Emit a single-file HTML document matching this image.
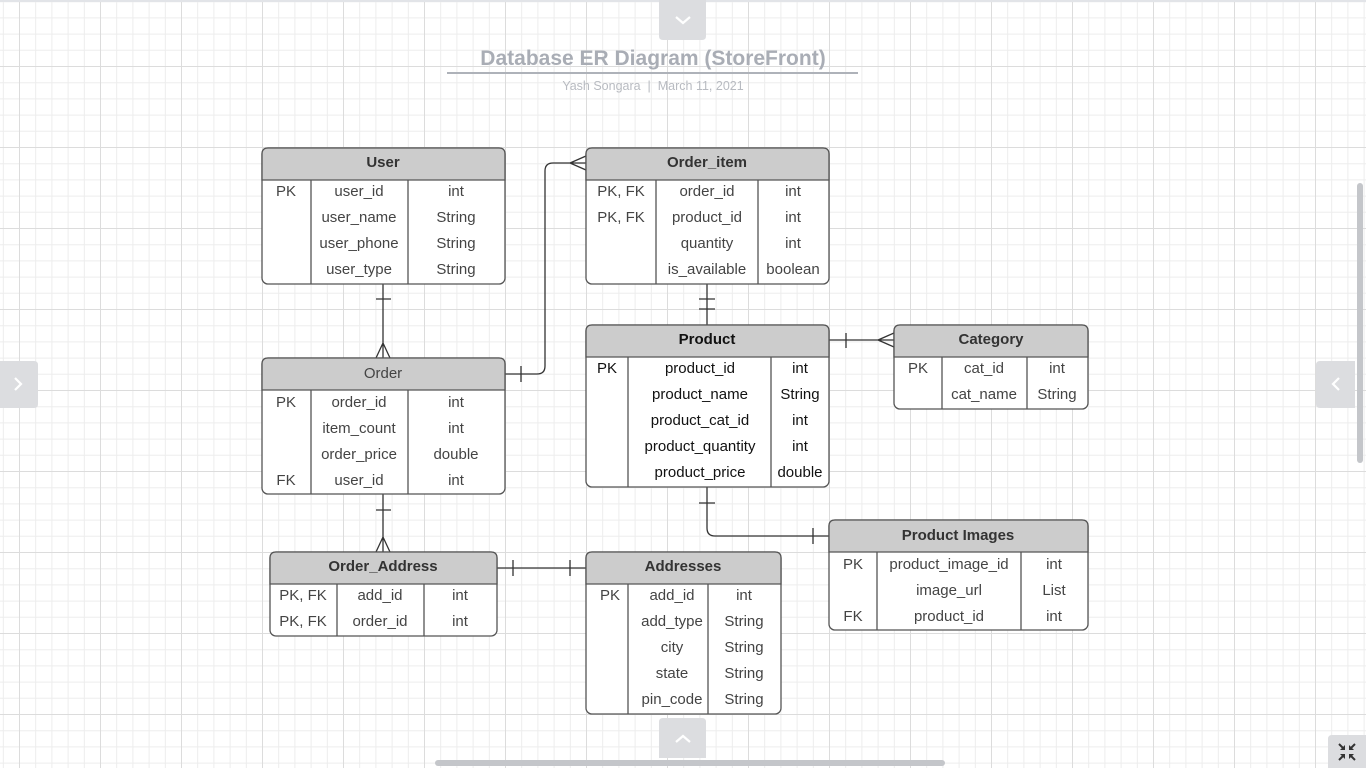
<!DOCTYPE html>
<html><head><meta charset="utf-8"><style>
html,body{margin:0;padding:0;width:1366px;height:768px;overflow:hidden;background:#fff;}
svg{position:absolute;left:0;top:0}
text{font-family:"Liberation Sans",sans-serif;font-size:15px;fill:#444;text-anchor:middle}
.h{font-weight:bold;fill:#333}
.k{fill:#111}
</style></head><body>
<svg width="1366" height="768" viewBox="0 0 1366 768">
<defs>
<pattern id="g" x="19" y="-15" width="81" height="81" patternUnits="userSpaceOnUse">
<g stroke="#ededed" stroke-width="1">
<path d="M16.7 0V81M32.9 0V81M49.1 0V81M65.3 0V81M0 16.7H81M0 32.9H81M0 49.1H81M0 65.3H81"/>
</g>
<path d="M0.5 0V81M0 0.5H81" stroke="#dcdcdc" stroke-width="1"/>
</pattern>
</defs>
<rect width="1366" height="768" fill="url(#g)"/>
<rect x="0" y="0" width="1366" height="2" fill="#e2e4e8"/>
<!-- title -->
<text x="653" y="65" style="font-size:21px;font-weight:bold;fill:#a9adb5">Database ER Diagram (StoreFront)</text>
<rect x="447" y="72" width="411" height="2" fill="#aeb2b9"/>
<text x="653" y="90" style="font-size:12.5px;fill:#b8bbc1">Yash Songara&#160; |&#160; March 11, 2021</text>

<g fill="none" stroke="#333" stroke-width="1.3">
<path d="M383 284V358M376 299H391M376 358L383 343L390 358M383 343V358"/>
<path d="M505 374H537Q545 374 545 366V171Q545 163 553 163H586M521 366V382M586 156L570 163L586 170"/>
<path d="M707 284V325M699 299H715M699 309H715"/>
<path d="M829 340H894M846 333V348M894 333L878 340L894 347"/>
<path d="M707 487V528Q707 536 715 536H829M699 503H715M813 528V544"/>
<path d="M383 494V552M376 510H391M376 552L383 537L390 552M383 537V552"/>
<path d="M497 568H586M513 560V576M570 560V576"/>
</g>

<g stroke="#555" stroke-width="1.3">
<rect x="262" y="148" width="243" height="136" rx="6" fill="#fff"/>
<path d="M262 180V154Q262 148 268 148H499Q505 148 505 154V180Z" fill="#ccc"/>
<path d="M311 180V284M408 180V284" fill="none"/>
<rect x="586" y="148" width="243" height="136" rx="6" fill="#fff"/>
<path d="M586 180V154Q586 148 592 148H823Q829 148 829 154V180Z" fill="#ccc"/>
<path d="M656 180V284M758 180V284" fill="none"/>
<rect x="262" y="358" width="243" height="136" rx="6" fill="#fff"/>
<path d="M262 390V364Q262 358 268 358H499Q505 358 505 364V390Z" fill="#ccc"/>
<path d="M311 390V494M408 390V494" fill="none"/>
<rect x="586" y="325" width="243" height="162" rx="6" fill="#fff"/>
<path d="M586 357V331Q586 325 592 325H823Q829 325 829 331V357Z" fill="#ccc"/>
<path d="M628 357V487M771 357V487" fill="none"/>
<rect x="894" y="325" width="194" height="84" rx="6" fill="#fff"/>
<path d="M894 357V331Q894 325 900 325H1082Q1088 325 1088 331V357Z" fill="#ccc"/>
<path d="M942 357V409M1027 357V409" fill="none"/>
<rect x="270" y="552" width="227" height="84" rx="6" fill="#fff"/>
<path d="M270 584V558Q270 552 276 552H491Q497 552 497 558V584Z" fill="#ccc"/>
<path d="M337 584V636M424 584V636" fill="none"/>
<rect x="586" y="552" width="195" height="162" rx="6" fill="#fff"/>
<path d="M586 584V558Q586 552 592 552H775Q781 552 781 558V584Z" fill="#ccc"/>
<path d="M628 584V714M708 584V714" fill="none"/>
<rect x="829" y="520" width="259" height="110" rx="6" fill="#fff"/>
<path d="M829 552V526Q829 520 835 520H1082Q1088 520 1088 526V552Z" fill="#ccc"/>
<path d="M877 552V630M1021 552V630" fill="none"/>
</g>

<text class="h" x="383" y="167">User</text>
<text x="286" y="196">PK</text><text x="359" y="196">user_id</text><text x="456" y="196">int</text>
<text x="359" y="222">user_name</text><text x="456" y="222">String</text>
<text x="359" y="248">user_phone</text><text x="456" y="248">String</text>
<text x="359" y="274">user_type</text><text x="456" y="274">String</text>
<text class="h" x="707" y="167">Order_item</text>
<text x="621" y="196">PK, FK</text><text x="707" y="196">order_id</text><text x="793" y="196">int</text>
<text x="621" y="222">PK, FK</text><text x="707" y="222">product_id</text><text x="793" y="222">int</text>
<text x="707" y="248">quantity</text><text x="793" y="248">int</text>
<text x="707" y="274">is_available</text><text x="793" y="274">boolean</text>
<text x="383" y="378">Order</text>
<text x="286" y="407">PK</text><text x="359" y="407">order_id</text><text x="456" y="407">int</text>
<text x="359" y="433">item_count</text><text x="456" y="433">int</text>
<text x="359" y="459">order_price</text><text x="456" y="459">double</text>
<text x="286" y="485">FK</text><text x="359" y="485">user_id</text><text x="456" y="485">int</text>
<text class="h k" x="707" y="344">Product</text>
<text class="k" x="607" y="373">PK</text><text class="k" x="700" y="373">product_id</text><text class="k" x="800" y="373">int</text>
<text class="k" x="700" y="399">product_name</text><text class="k" x="800" y="399">String</text>
<text class="k" x="700" y="425">product_cat_id</text><text class="k" x="800" y="425">int</text>
<text class="k" x="700" y="451">product_quantity</text><text class="k" x="800" y="451">int</text>
<text class="k" x="700" y="477">product_price</text><text class="k" x="800" y="477">double</text>
<text class="h" x="991" y="344">Category</text>
<text x="918" y="373">PK</text><text x="984" y="373">cat_id</text><text x="1057" y="373">int</text>
<text x="984" y="399">cat_name</text><text x="1057" y="399">String</text>
<text class="h" x="383" y="571">Order_Address</text>
<text x="303" y="600">PK, FK</text><text x="380" y="600">add_id</text><text x="460" y="600">int</text>
<text x="303" y="626">PK, FK</text><text x="380" y="626">order_id</text><text x="460" y="626">int</text>
<text class="h" x="683" y="571">Addresses</text>
<text x="610" y="600">PK</text><text x="672" y="600">add_id</text><text x="744" y="600">int</text>
<text x="672" y="626">add_type</text><text x="744" y="626">String</text>
<text x="672" y="652">city</text><text x="744" y="652">String</text>
<text x="672" y="678">state</text><text x="744" y="678">String</text>
<text x="672" y="704">pin_code</text><text x="744" y="704">String</text>
<text class="h" x="958" y="540">Product Images</text>
<text x="853" y="569">PK</text><text x="949" y="569">product_image_id</text><text x="1054" y="569">int</text>
<text x="949" y="595">image_url</text><text x="1054" y="595">List</text>
<text x="853" y="621">FK</text><text x="949" y="621">product_id</text><text x="1054" y="621">int</text>

<g fill="#dcdde0">
<path d="M659 0H706V36Q706 40 702 40H663Q659 40 659 36Z"/>
<path d="M663 718H702Q706 718 706 722V758H659V722Q659 718 663 718Z"/>
<path d="M0 361H34Q38 361 38 365V404Q38 408 34 408H0Z"/>
<path d="M1320 361H1355V408H1320Q1316 408 1316 404V365Q1316 361 1320 361Z"/>
<path d="M1332 735H1366V768H1328V739Q1328 735 1332 735Z"/>
</g>
<g fill="none" stroke="#fff" stroke-width="2.2">
<path d="M676 17L683 23L690 17"/>
<path d="M676 742L683 736L690 742"/>
<path d="M15 378L21 384L15 390"/>
<path d="M1339 378L1333 384L1339 390"/>
</g>
<rect x="1357" y="183" width="6" height="280" rx="3" fill="#c4c6ca"/>
<rect x="435" y="760" width="510" height="6" rx="3" fill="#c4c6ca"/>
<g stroke="#333" stroke-width="2" fill="none">
<path d="M1339 744L1344 749M1355 744L1350 749M1339 760L1344 755M1355 760L1350 755"/>
</g>
<g fill="#333">
<path d="M1345 750H1340L1345 745Z"/><path d="M1349 750H1354L1349 745Z"/>
<path d="M1345 754H1340L1345 759Z"/><path d="M1349 754H1354L1349 759Z"/>
</g>
</svg>
</body></html>
